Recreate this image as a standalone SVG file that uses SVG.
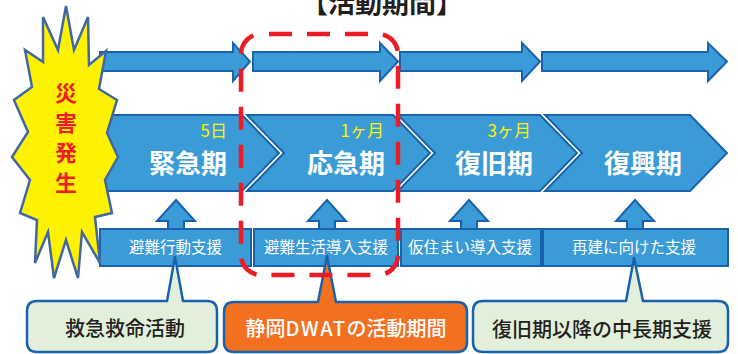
<svg xmlns="http://www.w3.org/2000/svg" width="738" height="354" viewBox="0 0 738 354">
<style>
.blue{fill:#3a9bd6;stroke:#1a62ad;stroke-width:2;stroke-linejoin:miter}
.jp{font-family:"Noto Sans CJK JP","Noto Sans",sans-serif}
.phase{font-size:26px;font-weight:bold;fill:#ffffff}
.dur{font-size:17px;fill:#fff200}
.sup{font-size:15.5px;fill:#ffffff}
.call{font-size:20px;font-weight:500}
.callout{stroke:#1a62ad;stroke-width:2.5;stroke-linejoin:round}
</style>
<rect width="738" height="354" fill="#ffffff"/>
<text id="title" class="jp" x="382" y="13" text-anchor="middle" font-size="27" font-weight="bold" fill="#231f20">【活動期間】</text>

<g id="timeline-arrows">
<polygon class="blue" points="100,52 233,52 233,43 250,61.5 233,81 233,71 100,71"/>
<polygon class="blue" points="253,52 380,52 380,43 398,61.5 380,81 380,71 253,71"/>
<polygon class="blue" points="400,52 522,52 522,43 540,61.5 522,81 522,71 400,71"/>
<polygon class="blue" points="542,52 708,52 708,43 727,61.5 708,81 708,71 542,71"/>
</g>

<g id="phase-kinkyu">
<polygon class="blue" points="98,115 242,115 279,153 242,191 98,191"/>
<text class="jp dur" x="227" y="137" text-anchor="end">5日</text>
<text class="jp phase" x="227" y="173" text-anchor="end">緊急期</text>
</g>
<g id="phase-oukyu">
<polygon class="blue" points="247,115 393,115 430,153 393,191 247,191 284,153"/>
<text class="jp dur" x="384" y="137" text-anchor="end">1ヶ月</text>
<text class="jp phase" x="385" y="173" text-anchor="end">応急期</text>
</g>
<g id="phase-fukkyu">
<polygon class="blue" points="398,115 540,115 577,153 540,191 398,191 435,153"/>
<text class="jp dur" x="531" y="137" text-anchor="end">3ヶ月</text>
<text class="jp phase" x="533" y="173" text-anchor="end">復旧期</text>
</g>
<g id="phase-fukkou">
<polygon class="blue" points="545,115 690,115 727,153 690,191 545,191 582,153"/>
<text class="jp phase" x="643" y="173" text-anchor="middle">復興期</text>
</g>

<g id="support-1">
<polygon class="blue" points="176,200 195,221 184,221 184,230 168,230 168,221 157,221"/>
<rect class="blue" x="100" y="229" width="151" height="37"/>
<text class="jp sup" x="175.5" y="253" text-anchor="middle">避難行動支援</text>
</g>
<g id="support-2">
<polygon class="blue" points="327,200 346,221 335,221 335,230 319,230 319,221 308,221"/>
<rect class="blue" x="254" y="229" width="144" height="37"/>
<text class="jp sup" x="326" y="253" text-anchor="middle">避難生活導入支援</text>
</g>
<g id="support-3">
<polygon class="blue" points="469,200 488,221 477,221 477,230 461,230 461,221 450,221"/>
<rect class="blue" x="401" y="229" width="140" height="37"/>
<text class="jp sup" x="470" y="253" text-anchor="middle">仮住まい導入支援</text>
</g>
<g id="support-4">
<polygon class="blue" points="635,200 654,221 643,221 643,230 627,230 627,221 616,221"/>
<rect class="blue" x="543" y="229" width="185" height="37"/>
<text class="jp sup" x="634" y="253" text-anchor="middle">再建に向けた支援</text>
</g>

<g id="callout-kyumei">
<path class="callout" fill="#e2efda" d="M37,301 L167,301 L175,257 L183,301 L207,301 Q217,301 217,311 L217,342 Q217,352 207,352 L37,352 Q27,352 27,342 L27,311 Q27,301 37,301 Z"/>
<text class="jp call" x="125" y="336" text-anchor="middle" fill="#231f20">救急救命活動</text>
</g>
<g id="callout-dwat">
<path class="callout" fill="#f37021" d="M234,302 L318,302 L327,256 L336,302 L457,302 Q467,302 467,312 L467,342 Q467,352 457,352 L234,352 Q224,352 224,342 L224,312 Q224,302 234,302 Z"/>
<text class="jp call" x="346" y="336" text-anchor="middle" fill="#ffffff" font-size="21">静岡<tspan letter-spacing="1.5">DWAT</tspan>の活動期間</text>
</g>
<g id="callout-chouki">
<path class="callout" fill="#e2efda" d="M483,301 L626,301 L634,258 L643,301 L718,301 Q728,301 728,311 L728,342 Q728,352 718,352 L483,352 Q473,352 473,342 L473,311 Q473,301 483,301 Z"/>
<text class="jp call" x="602" y="337" text-anchor="middle" fill="#231f20">復旧期以降の中長期支援</text>
</g>

<g id="disaster">
<polygon fill="#fff200" stroke="#41689f" stroke-width="2.5" stroke-linejoin="miter" points="66,6 74,50 88,17 89,65 106,51 99,89 117,100 107,133 118,157 105,180 112,213 95,217 100,263 82,232 78,278 66,240 54,278 48,232 35,263 37,220 20,213 30,180 12,157 28,132 14,100 32,87 25,50 43,62 43,17 58,50"/>
<g class="jp" font-size="22" font-weight="bold" fill="#ee1c25" text-anchor="middle">
<text x="66" y="101">災</text>
<text x="66" y="131">害</text>
<text x="66" y="161">発</text>
<text x="66" y="191">生</text>
</g>
</g>

<g id="dwat-period">
<rect x="241" y="34" width="157" height="241" rx="20" ry="20" fill="none" stroke="#ed1c24" stroke-width="4.5" stroke-dasharray="23 15" stroke-dashoffset="30"/>
</g>
</svg>
